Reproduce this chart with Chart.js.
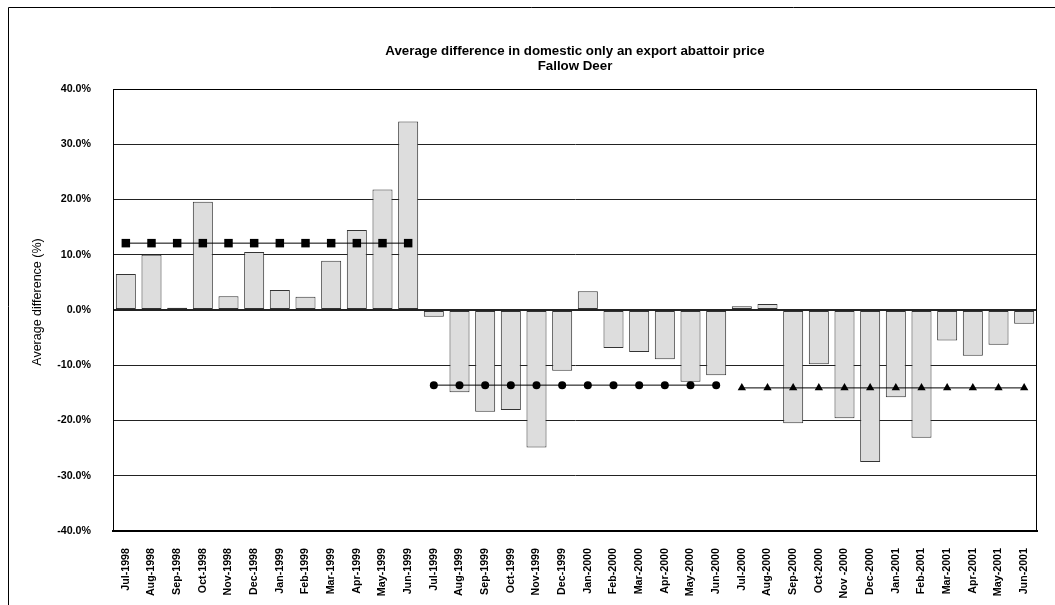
<!DOCTYPE html>
<html>
<head>
<meta charset="utf-8">
<title>Fallow Deer – domestic vs export abattoir price</title>
<script src="https://cdn.jsdelivr.net/npm/chart.js@4/dist/chart.umd.min.js"></script>
<style>
  html, body { margin: 0; padding: 0; background: #ffffff; }
  #wrap { width: 1055px; height: 605px; position: relative; }
  canvas { display: block; }
</style>
</head>
<body>
<div id="wrap"><canvas id="chart" width="1055" height="605"></canvas></div>
<script>
// Month categories (Jul-1998 .. Jun-2001)
const months = [
  'Jul-1998','Aug-1998','Sep-1998','Oct-1998','Nov-1998','Dec-1998',
  'Jan-1999','Feb-1999','Mar-1999','Apr-1999','May-1999','Jun-1999',
  'Jul-1999','Aug-1999','Sep-1999','Oct-1999','Nov-1999','Dec-1999',
  'Jan-2000','Feb-2000','Mar-2000','Apr-2000','May-2000','Jun-2000',
  'Jul-2000','Aug-2000','Sep-2000','Oct-2000','Nov -2000','Dec-2000',
  'Jan-2001','Feb-2001','Mar-2001','Apr-2001','May-2001','Jun-2001'
];

// Monthly average difference (%)
const monthlyDifference = [
  6.5, 10.0, 0.4, 19.6, 2.5, 10.5, 3.6, 2.4, 8.9, 14.5, 21.8, 34.1,
  -1.2, -14.9, -18.4, -18.1, -24.9, -11.0, 3.4, -6.9, -7.6, -8.9, -13.0, -11.8,
  0.7, 1.1, -20.5, -9.8, -19.6, -27.5, -15.8, -23.1, -5.5, -8.3, -6.3, -2.5
];

// Season average lines (%), one value per month of each season
const season1998Months = months.slice(0, 12);
const season1998Avg = [12.1, 12.1, 12.1, 12.1, 12.1, 12.1, 12.1, 12.1, 12.1, 12.1, 12.1, 12.1];
const season1999Months = months.slice(12, 24);
const season1999Avg = [-13.6, -13.6, -13.6, -13.6, -13.6, -13.6, -13.6, -13.6, -13.6, -13.6, -13.6, -13.6];
const season2000Months = months.slice(24, 36);
const season2000Avg = [-14.1, -14.1, -14.1, -14.1, -14.1, -14.1, -14.1, -14.1, -14.1, -14.1, -14.1, -14.1];

// Axis ticks (%)
const yTicks = [-40, -30, -20, -10, 0, 10, 20, 30, 40];

const titleLines = ['Average difference in domestic only an export abattoir price', 'Fallow Deer'];
const yAxisTitle = 'Average difference (%)';

const FONT = 'Arial, "Liberation Sans", sans-serif';

function pairUp(labels, values) {
  return labels.map((m, i) => ({ x: m, y: values[i] }));
}

// Titles, y-axis caption, outer frame and plot-area frame
const decorations = {
  id: 'decorations',
  afterDraw(chart) {
    const { ctx, chartArea } = chart;
    const cx = (chartArea.left + chartArea.right) / 2;
    ctx.save();
    ctx.fillStyle = '#000';
    ctx.font = 'bold 13.3px ' + FONT;
    ctx.textAlign = 'center';
    ctx.textBaseline = 'middle';
    ctx.fillText(titleLines[0], cx, 51);
    ctx.fillText(titleLines[1], cx, 66);

    ctx.save();
    ctx.translate(37.5, 302);
    ctx.rotate(-Math.PI / 2);
    ctx.font = '12.5px ' + FONT;
    ctx.fillText(yAxisTitle, 0, 0);
    ctx.restore();

    ctx.strokeStyle = '#000';
    ctx.lineWidth = 1;
    ctx.beginPath();
    ctx.moveTo(8.5, 605);
    ctx.lineTo(8.5, 7.5);
    ctx.lineTo(1055, 7.5);
    ctx.stroke();

    const l = Math.round(chartArea.left) + 0.5;
    const r = Math.round(chartArea.right) - 0.5;
    const t = Math.round(chartArea.top) + 0.5;
    const b = Math.round(chartArea.bottom);
    ctx.beginPath();
    ctx.moveTo(l, t);
    ctx.lineTo(r, t);
    ctx.lineTo(r, b);
    ctx.stroke();
    ctx.restore();
  }
};

const markerLine = (data, style, radius) => ({
  type: 'line',
  data: data,
  order: 1,
  borderColor: '#000',
  borderWidth: 1,
  backgroundColor: '#000',
  pointStyle: style,
  pointRadius: radius,
  pointBorderWidth: 0,
  pointBackgroundColor: '#000',
  fill: false,
  tension: 0
});

new Chart(document.getElementById('chart'), {
  type: 'bar',
  data: {
    labels: months,
    datasets: [
      {
        type: 'bar',
        data: monthlyDifference,
        order: 2,
        backgroundColor: '#dddddd',
        borderColor: '#333333',
        borderWidth: 1,
        borderSkipped: false,
        barPercentage: 0.78,
        categoryPercentage: 1.0
      },
      markerLine(pairUp(season1998Months, season1998Avg), 'rect', 6),
      markerLine(pairUp(season1999Months, season1999Avg), 'circle', 4),
      markerLine(pairUp(season2000Months, season2000Avg), 'triangle', 4.8)
    ]
  },
  options: {
    responsive: false,
    animation: false,
    devicePixelRatio: 1,
    layout: { padding: { top: 89, left: 10, right: 18, bottom: 0 } },
    plugins: {
      legend: { display: false },
      tooltip: { enabled: false },
      title: { display: false }
    },
    scales: {
      x: {
        type: 'category',
        offset: true,
        grid: { display: false, drawTicks: false },
        border: { display: true, color: '#000', width: 2 },
        ticks: {
          autoSkip: false,
          minRotation: 90,
          maxRotation: 90,
          padding: 17,
          color: '#000',
          font: { family: FONT, size: 10.7, weight: 'bold' }
        },
        afterFit(scale) { scale.height = 74; }
      },
      y: {
        min: -40,
        max: 40,
        afterBuildTicks(scale) { scale.ticks = yTicks.map(v => ({ value: v })); },
        grid: {
          drawTicks: false,
          color: '#222',
          lineWidth: (c) => (c.tick && c.tick.value === 0 ? 2 : 1)
        },
        border: { display: true, color: '#000', width: 1 },
        ticks: {
          padding: 22,
          color: '#000',
          font: { family: FONT, size: 10.7, weight: 'bold' },
          callback: (v) => Number(v).toFixed(1) + '%'
        },
        title: { display: false },
        afterFit(scale) { scale.width = 103; }
      }
    }
  },
  plugins: [decorations]
});
</script>
</body>
</html>
